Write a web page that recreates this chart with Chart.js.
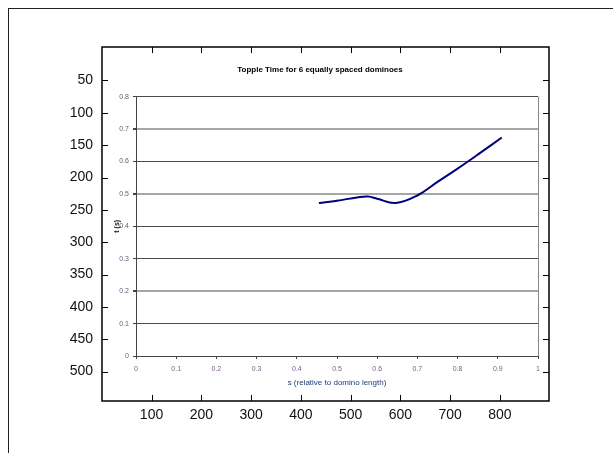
<!DOCTYPE html>
<html>
<head>
<meta charset="utf-8">
<script src="https://cdn.jsdelivr.net/npm/chart.js@4.4.1/dist/chart.umd.min.js"></script>
<style>
    html, body { margin: 0; padding: 0; background: #fff; }
    #wrap { position: relative; width: 613px; height: 453px; overflow: hidden; }
    #frame { position: absolute; left: 8px; top: 8px; width: 620px; height: 460px;
             border-left: 1px solid #222; border-top: 1px solid #222; }
    #outer { position: absolute; left: 0; top: 0; }
    #inner { position: absolute; left: 102px; top: 47px; }
</style>
</head>
<body>
<div id="wrap">
    <div id="frame"></div>
    <canvas id="outer" width="613" height="453"></canvas>
    <canvas id="inner" width="447" height="354"></canvas>
</div>
<script>
// Outer (image) axes
const OUTER_X_TICKS = [100, 200, 300, 400, 500, 600, 700, 800];
const OUTER_Y_TICKS = [50, 100, 150, 200, 250, 300, 350, 400, 450, 500];

// Inner plot
const TITLE = 'Topple Time for 6 equally spaced dominoes';
const X_LABEL = 's (relative to domino length)';
const Y_LABEL = 't (s)';
const INNER_X_TICKS = [0, 0.1, 0.2, 0.3, 0.4, 0.5, 0.6, 0.7, 0.8, 0.9, 1];
const INNER_Y_TICKS = [0, 0.1, 0.2, 0.3, 0.4, 0.5, 0.6, 0.7, 0.8];
const S_VALUES = [0.455, 0.5, 0.55, 0.577, 0.6, 0.646, 0.7, 0.75, 0.8, 0.85, 0.91];
const T_VALUES = [0.472, 0.479, 0.489, 0.492, 0.485, 0.472, 0.495, 0.537, 0.578, 0.621, 0.674];
// grid lines that came out lighter/thicker in the pasted picture
const LIGHT_LINES = [0.2, 0.5, 0.7];

const FONT = 'Liberation Sans, Arial, sans-serif';

// box + inward ticks on all four sides, matlab style
const matlabBox = {
    id: 'matlabBox',
    afterDraw(chart) {
        const { ctx, chartArea: a, scales } = chart;
        const len = 6;
        ctx.save();
        ctx.strokeStyle = '#000';
        ctx.lineWidth = 1;
        ctx.beginPath();
        scales.x.ticks.forEach(t => {
            const px = Math.round(scales.x.getPixelForValue(t.value)) + 0.5;
            ctx.moveTo(px, a.bottom); ctx.lineTo(px, a.bottom - len);
            ctx.moveTo(px, a.top); ctx.lineTo(px, a.top + len);
        });
        scales.y.ticks.forEach(t => {
            const py = Math.round(scales.y.getPixelForValue(t.value)) + 0.5;
            ctx.moveTo(a.left, py); ctx.lineTo(a.left + len, py);
            ctx.moveTo(a.right, py); ctx.lineTo(a.right - len, py);
        });
        ctx.stroke();
        ctx.lineWidth = 1.5;
        ctx.strokeRect(a.left, a.top, a.right - a.left, a.bottom - a.top);
        ctx.restore();
    }
};

new Chart(document.getElementById('outer'), {
    type: 'line',
    data: { datasets: [] },
    plugins: [matlabBox],
    options: {
        responsive: false,
        animation: false,
        layout: { padding: { left: 0, top: 47, right: 64, bottom: 0 } },
        plugins: { legend: { display: false }, tooltip: { enabled: false } },
        scales: {
            x: {
                type: 'linear', position: 'bottom', min: 0.5, max: 898.5,
                afterBuildTicks: s => { s.ticks = OUTER_X_TICKS.map(v => ({ value: v })); },
                afterFit: s => { s.height = 52; },
                grid: { display: false, drawTicks: false },
                border: { display: false },
                ticks: { font: { family: FONT, size: 14 }, color: '#111', padding: 6, maxRotation: 0, autoSkip: false }
            },
            y: {
                type: 'linear', position: 'left', min: -1.8, max: 545.6, reverse: true,
                afterBuildTicks: s => { s.ticks = OUTER_Y_TICKS.map(v => ({ value: v })); },
                afterFit: s => { s.width = 102; },
                grid: { display: false, drawTicks: false },
                border: { display: false },
                ticks: { font: { family: FONT, size: 14 }, color: '#111', padding: 9, autoSkip: false }
            }
        }
    }
});

new Chart(document.getElementById('inner'), {
    type: 'line',
    data: {
        datasets: [{
            data: S_VALUES.map((s, i) => ({ x: s, y: T_VALUES[i] })),
            borderColor: '#00007f',
            borderWidth: 2,
            pointRadius: 0,
            tension: 0.4,
            fill: false
        }]
    },
    options: {
        responsive: false,
        animation: false,
        layout: { padding: { left: 0, top: 0, right: 11, bottom: 0 } },
        plugins: {
            legend: { display: false },
            tooltip: { enabled: false },
            title: {
                display: true, text: TITLE, color: '#000',
                font: { family: FONT, size: 8, weight: 'bold' },
                padding: { top: 18, bottom: 22 }
            }
        },
        scales: {
            x: {
                type: 'linear', min: 0, max: 1,
                afterBuildTicks: s => { s.ticks = INNER_X_TICKS.map(v => ({ value: v })); },
                afterFit: s => { s.height = 45; },
                grid: {
                    color: c => (c.tick && c.tick.value === 1) ? '#888' : 'rgba(0,0,0,0)',
                    tickColor: '#444', tickLength: 3, lineWidth: 1
                },
                border: { color: '#444', width: 1 },
                ticks: {
                    font: { family: FONT, size: 7 }, color: '#7b5a8c', padding: 6,
                    maxRotation: 0, autoSkip: false, callback: v => String(v)
                },
                title: {
                    display: true, text: X_LABEL, color: '#1d3c78',
                    font: { family: FONT, size: 8 }, padding: { top: 0, bottom: 13 }
                }
            },
            y: {
                type: 'linear', min: 0, max: 0.8,
                afterBuildTicks: s => { s.ticks = INNER_Y_TICKS.map(v => ({ value: v })); },
                afterFit: s => { s.width = 34; },
                grid: {
                    color: c => LIGHT_LINES.includes(c.tick && c.tick.value) ? '#a6a6a6' : '#4a4a4a',
                    lineWidth: c => LIGHT_LINES.includes(c.tick && c.tick.value) ? 2 : 1,
                    tickColor: '#444', tickLength: 3
                },
                border: { color: '#444', width: 1 },
                ticks: {
                    font: { family: FONT, size: 7 }, color: '#6d5878', padding: 4,
                    autoSkip: false, callback: v => String(v)
                },
                title: {
                    display: true, text: Y_LABEL, color: '#111',
                    font: { family: FONT, size: 7, weight: 'bold' }, padding: { top: 11, bottom: 0 }
                }
            }
        }
    }
});
</script>
</body>
</html>
